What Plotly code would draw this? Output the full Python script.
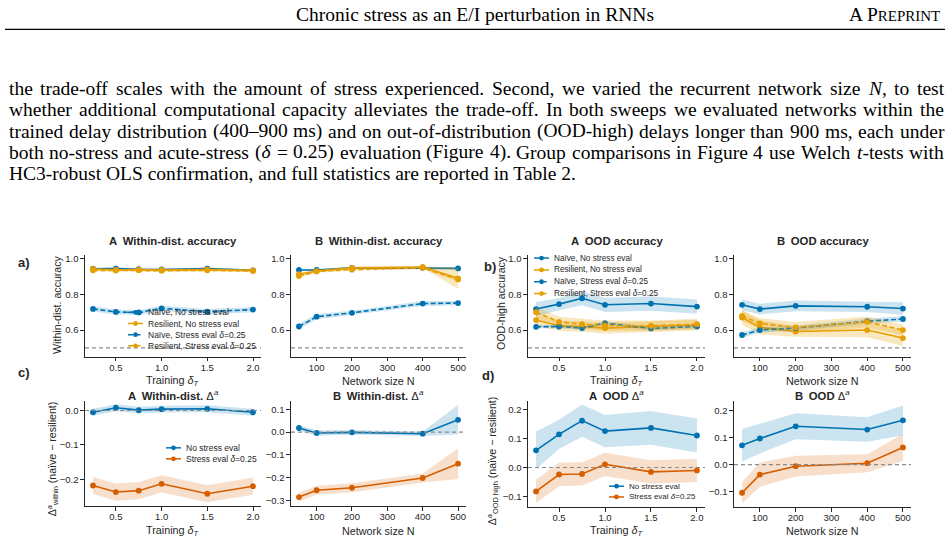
import re
import plotly.graph_objects as go

# ---------------- data ----------------
delta_T = [0.25, 0.5, 0.75, 1.0, 1.5, 2.0]
net_N = [50, 100, 200, 400, 500]

# a) within-distribution accuracy, A: vs training delta_T
accW_dT_naive_ns = [0.945, 0.946, 0.942, 0.941, 0.946, 0.936]
accW_dT_resil_ns = [0.944, 0.938, 0.940, 0.938, 0.940, 0.936]
accW_dT_naive_st = [0.719, 0.702, 0.699, 0.722, 0.703, 0.715]
accW_dT_resil_st = [0.936, 0.935, 0.937, 0.934, 0.936, 0.932]
accW_dT_naive_ns_err = [0.006, 0.006, 0.006, 0.006, 0.006, 0.006]
accW_dT_resil_ns_err = [0.006, 0.006, 0.006, 0.006, 0.006, 0.006]
accW_dT_naive_st_err = [0.015, 0.014, 0.014, 0.015, 0.015, 0.015]
accW_dT_resil_st_err = [0.006, 0.006, 0.006, 0.006, 0.006, 0.006]

# a) B: vs network size N
accW_N_naive_ns = [0.938, 0.938, 0.950, 0.950, 0.947]
accW_N_resil_ns = [0.914, 0.932, 0.950, 0.955, 0.891]
accW_N_naive_st = [0.620, 0.675, 0.697, 0.749, 0.752]
accW_N_resil_st = [0.904, 0.930, 0.940, 0.950, 0.885]
accW_N_naive_ns_err = [0.006, 0.006, 0.006, 0.006, 0.006]
accW_N_resil_ns_err = [0.010, 0.008, 0.006, 0.006, 0.060]
accW_N_naive_st_err = [0.015, 0.015, 0.012, 0.014, 0.012]
accW_N_resil_st_err = [0.010, 0.008, 0.006, 0.006, 0.012]

# b) OOD-high accuracy, A: vs delta_T
accO_dT_naive_ns = [0.718, 0.746, 0.779, 0.742, 0.749, 0.732]
accO_dT_resil_ns = [0.656, 0.624, 0.620, 0.611, 0.620, 0.628]
accO_dT_naive_st = [0.618, 0.620, 0.611, 0.639, 0.609, 0.620]
accO_dT_resil_st = [0.700, 0.646, 0.633, 0.624, 0.624, 0.633]
accO_dT_naive_ns_err = [0.040, 0.035, 0.040, 0.040, 0.040, 0.040]
accO_dT_resil_ns_err = [0.030, 0.030, 0.030, 0.030, 0.030, 0.030]
accO_dT_naive_st_err = [0.010, 0.010, 0.010, 0.010, 0.010, 0.010]
accO_dT_resil_st_err = [0.030, 0.030, 0.030, 0.030, 0.030, 0.030]

# b) B: vs N
accO_N_naive_ns = [0.742, 0.718, 0.736, 0.731, 0.721]
accO_N_resil_ns = [0.671, 0.615, 0.592, 0.600, 0.555]
accO_N_naive_st = [0.572, 0.600, 0.611, 0.650, 0.662]
accO_N_resil_st = [0.680, 0.637, 0.615, 0.646, 0.600]
accO_N_naive_ns_err = [0.030, 0.030, 0.030, 0.030, 0.035]
accO_N_resil_ns_err = [0.040, 0.040, 0.030, 0.040, 0.045]
accO_N_naive_st_err = [0.015, 0.015, 0.015, 0.015, 0.015]
accO_N_resil_st_err = [0.030, 0.030, 0.030, 0.030, 0.030]

# c) within-dist Delta (naive - resilient)
dW_dT_ns = [-0.005, 0.008, 0.001, 0.004, 0.005, -0.005]
dW_dT_st = [-0.218, -0.237, -0.233, -0.213, -0.242, -0.220]
dW_dT_ns_err = [0.010, 0.010, 0.010, 0.010, 0.010, 0.010]
dW_dT_st_err = [0.025, 0.025, 0.025, 0.025, 0.025, 0.025]
dW_N_ns = [0.018, -0.004, -0.001, -0.007, 0.054]
dW_N_st = [-0.286, -0.256, -0.245, -0.202, -0.139]
dW_N_ns_err = [0.012, 0.012, 0.010, 0.010, 0.065]
dW_N_st_err = [0.020, 0.020, 0.020, 0.020, 0.068]

# d) OOD-high Delta (naive - resilient)
dO_dT_ns = [0.059, 0.114, 0.161, 0.125, 0.136, 0.110]
dO_dT_st = [-0.082, -0.024, -0.022, 0.011, -0.015, -0.010]
dO_dT_ns_err = [0.065, 0.050, 0.055, 0.055, 0.058, 0.058]
dO_dT_st_err = [0.040, 0.040, 0.040, 0.040, 0.040, 0.040]
dO_N_ns = [0.071, 0.096, 0.141, 0.129, 0.163]
dO_N_st = [-0.104, -0.037, -0.006, 0.005, 0.063]
dO_N_ns_err = [0.060, 0.055, 0.048, 0.045, 0.055]
dO_N_st_err = [0.040, 0.045, 0.038, 0.033, 0.050]

header_title = "Chronic stress as an E/I perturbation in RNNs"
paragraph_lines = [
    "the trade-off scales with the amount of stress experienced. Second, we varied the recurrent network size <i>N</i>, to test",
    "whether additional computational capacity alleviates the trade-off. In both sweeps we evaluated networks within the",
    "trained delay distribution (400–900 ms) and on out-of-distribution (OOD-high) delays longer than 900 ms, each under",
    "both no-stress and acute-stress (<i>δ</i> = 0.25) evaluation (Figure 4). Group comparisons in Figure 4 use Welch <i>t</i>-tests with",
    "HC3-robust OLS confirmation, and full statistics are reported in Table 2.",
]

# ---------------- style ----------------
W, H = 950, 543
SANS = "Liberation Sans, Arial, sans-serif"
SERIF = "Liberation Serif, Times New Roman, serif"
INK = "#262626"
BLUE, ORANGE, RED = "#0072B2", "#E69F00", "#D55E00"
FILL = {BLUE: "rgba(0,114,178,0.20)", ORANGE: "rgba(230,159,0,0.25)", RED: "rgba(213,94,0,0.20)"}
DASH = "5px,2.5px"


def px(x):
    return x / W


def py(y):
    return 1 - y / H


fig = go.Figure()

# axis boxes in page pixels: (left, right, top, bottom)
panels = [
    dict(box=(85, 261, 254, 356), xr=[0.1625, 2.0875], yr=[0.45, 1.022], xt=[0.5, 1.0, 1.5, 2.0],
         yt=[0.6, 0.8, 1.0], ref=0.5),
    dict(box=(291, 466, 254, 356), xr=[27.5, 522.5], yr=[0.45, 1.022], xt=[100, 200, 300, 400, 500],
         yt=[0.6, 0.8, 1.0], ref=0.5),
    dict(box=(528, 705, 254, 356), xr=[0.1625, 2.0875], yr=[0.45, 1.022], xt=[0.5, 1.0, 1.5, 2.0],
         yt=[0.6, 0.8, 1.0], ref=0.5),
    dict(box=(734, 911, 254, 356), xr=[27.5, 522.5], yr=[0.45, 1.022], xt=[100, 200, 300, 400, 500],
         yt=[0.6, 0.8, 1.0], ref=0.5),
    dict(box=(85, 261, 400, 506), xr=[0.1625, 2.0875], yr=[-0.278, 0.029], xt=[0.5, 1.0, 1.5, 2.0],
         yt=[-0.2, -0.1, 0.0], ref=0.0),
    dict(box=(291, 466, 400, 506), xr=[27.5, 522.5], yr=[-0.326, 0.139], xt=[100, 200, 300, 400, 500],
         yt=[-0.3, -0.2, -0.1, 0.0, 0.1], ref=0.0),
    dict(box=(528, 705, 400, 507), xr=[0.1625, 2.0875], yr=[-0.136, 0.230], xt=[0.5, 1.0, 1.5, 2.0],
         yt=[-0.1, 0.0, 0.1, 0.2], ref=0.0),
    dict(box=(734, 911, 400, 507), xr=[27.5, 522.5], yr=[-0.157, 0.236], xt=[100, 200, 300, 400, 500],
         yt=[-0.1, 0.0, 0.1, 0.2], ref=0.0),
]


def fmt(v, is_int=False):
    if is_int:
        return str(int(v))
    s = f"{abs(v):.1f}"
    return ("−" + s) if v < -1e-9 else s


layout_axes = {}
shapes = []
for i, p in enumerate(panels):
    n = "" if i == 0 else str(i + 1)
    l, r, t, b = p["box"]
    is_int = p["xr"][1] > 10
    layout_axes["xaxis" + n] = dict(
        domain=[px(l), px(r)], range=p["xr"], anchor="y" + n, showgrid=False, zeroline=False,
        showline=True, linecolor=INK, linewidth=1.1, ticks="outside", ticklen=3.5, tickwidth=1,
        tickcolor=INK, tickvals=p["xt"], ticktext=[fmt(v, is_int) for v in p["xt"]],
        ticklabelstandoff=-2,
        tickfont=dict(family=SANS, size=9.5, color=INK), fixedrange=True)
    layout_axes["yaxis" + n] = dict(
        domain=[py(b), py(t)], range=p["yr"], anchor="x" + n, showgrid=False, zeroline=False,
        showline=True, linecolor=INK, linewidth=1.1, ticks="outside", ticklen=3.5, tickwidth=1,
        tickcolor=INK, tickvals=p["yt"], ticktext=[fmt(v) for v in p["yt"]],
        tickfont=dict(family=SANS, size=9.5, color=INK), fixedrange=True)
    shapes.append(dict(type="line", xref=("x" + n + " domain"), yref=("y" + n), x0=0, x1=1,
                       y0=p["ref"], y1=p["ref"], line=dict(color="#8a8a8a", width=1.2, dash="4px,3px"),
                       layer="above"))


def add_series(idx, xs, ys, err, color, dash):
    n = "" if idx == 0 else str(idx + 1)
    up = [y + e for y, e in zip(ys, err)]
    lo = [y - e for y, e in zip(ys, err)]
    fig.add_trace(go.Scatter(x=list(xs) + list(xs)[::-1], y=up + lo[::-1], fill="toself",
                             fillcolor=FILL[color], line=dict(width=0), mode="lines",
                             hoverinfo="skip", showlegend=False, xaxis="x" + n, yaxis="y" + n))
    fig.add_trace(go.Scatter(x=xs, y=ys, mode="lines+markers",
                             line=dict(color=color, width=1.6, dash=dash),
                             marker=dict(size=5.8, color=color), showlegend=False,
                             xaxis="x" + n, yaxis="y" + n))


four = [
    (0, delta_T, accW_dT_naive_ns, accW_dT_naive_ns_err, accW_dT_resil_ns, accW_dT_resil_ns_err,
     accW_dT_naive_st, accW_dT_naive_st_err, accW_dT_resil_st, accW_dT_resil_st_err),
    (1, net_N, accW_N_naive_ns, accW_N_naive_ns_err, accW_N_resil_ns, accW_N_resil_ns_err,
     accW_N_naive_st, accW_N_naive_st_err, accW_N_resil_st, accW_N_resil_st_err),
    (2, delta_T, accO_dT_naive_ns, accO_dT_naive_ns_err, accO_dT_resil_ns, accO_dT_resil_ns_err,
     accO_dT_naive_st, accO_dT_naive_st_err, accO_dT_resil_st, accO_dT_resil_st_err),
    (3, net_N, accO_N_naive_ns, accO_N_naive_ns_err, accO_N_resil_ns, accO_N_resil_ns_err,
     accO_N_naive_st, accO_N_naive_st_err, accO_N_resil_st, accO_N_resil_st_err),
]
for idx, xs, a, ae, b_, be, c, ce, d, de in four:
    add_series(idx, xs, a, ae, BLUE, "solid")
    add_series(idx, xs, b_, be, ORANGE, "solid")
    add_series(idx, xs, c, ce, BLUE, DASH)
    add_series(idx, xs, d, de, ORANGE, DASH)

two = [
    (4, delta_T, dW_dT_ns, dW_dT_ns_err, dW_dT_st, dW_dT_st_err),
    (5, net_N, dW_N_ns, dW_N_ns_err, dW_N_st, dW_N_st_err),
    (6, delta_T, dO_dT_ns, dO_dT_ns_err, dO_dT_st, dO_dT_st_err),
    (7, net_N, dO_N_ns, dO_N_ns_err, dO_N_st, dO_N_st_err),
]
for idx, xs, a, ae, b_, be in two:
    add_series(idx, xs, a, ae, BLUE, "solid")
    add_series(idx, xs, b_, be, RED, "solid")

annotations = []


def text(x, y, s, size, family=SANS, color=INK, xanchor="center", yanchor="middle", angle=0):
    annotations.append(dict(x=px(x), y=py(y), xref="paper", yref="paper", text=s, showarrow=False,
                            xanchor=xanchor, yanchor=yanchor, textangle=angle,
                            font=dict(family=family, size=size, color=color)))


# manual compact legends
def legend(x0, y0, dy, entries, size):
    hw = 15
    for k, (label, color, dash) in enumerate(entries):
        yy = y0 + k * dy
        shapes.append(dict(type="line", xref="paper", yref="paper", x0=px(x0), x1=px(x0 + hw),
                           y0=py(yy), y1=py(yy), line=dict(color=color, width=1.5, dash=dash)))
        cx = x0 + hw / 2
        shapes.append(dict(type="circle", xref="paper", yref="paper", x0=px(cx - 2.4), x1=px(cx + 2.4),
                           y0=py(yy + 2.4), y1=py(yy - 2.4), fillcolor=color, line=dict(width=0)))
        text(x0 + hw + 3, yy, label, size, xanchor="left")


ent4 = [("Naïve, No stress eval", BLUE, "solid"), ("Resilient, No stress eval", ORANGE, "solid"),
        ("Naïve, Stress eval <i>δ</i>=0.25", BLUE, DASH), ("Resilient, Stress eval <i>δ</i>=0.25", ORANGE, DASH)]
ent2 = [("No stress eval", BLUE, "solid"), ("Stress eval <i>δ</i>=0.25", RED, "solid")]
legend(128, 311.5, 11.2, ent4, 8.5)
legend(534, 257, 11.9, ent4, 8.2)
legend(166, 447.5, 11, ent2, 8.5)
legend(609, 486, 10.8, ent2, 8)

# subplot titles
titles_row1 = ["<b>A\u2002Within-dist. accuracy</b>", "<b>B\u2002Within-dist. accuracy</b>",
               "<b>A\u2002OOD accuracy</b>", "<b>B\u2002OOD accuracy</b>"]
titles_row2 = ["<b>A\u2002Within-dist. </b>Δ<sup><i>a</i></sup>", "<b>B\u2002Within-dist. </b>Δ<sup><i>a</i></sup>",
               "<b>A\u2002OOD </b>Δ<sup><i>a</i></sup>", "<b>B\u2002OOD </b>Δ<sup><i>a</i></sup>"]
for k, p in enumerate(panels):
    l, r, t, b = p["box"]
    cx = (l + r) / 2
    if k < 4:
        text(cx, 240, titles_row1[k], 11.3)
    else:
        text(cx, 394, titles_row2[k - 4], 11.3)
    xt = "Training <i>δ</i><sub><i>T</i></sub>" if p["xr"][1] < 10 else "Network size N"
    text(cx, (380 if k < 4 else 531), xt, 10.8)

# y-axis titles
text(57, 304, "Within-dist. accuracy", 10.6, angle=-90)
text(501, 302, "OOD-high accuracy", 10.6, angle=-90)
text(53, 459, "Δ<sup><i>a</i></sup><sub>within</sub> (naïve − resilient)", 10.6, angle=-90)
text(493, 461, "Δ<sup><i>a</i></sup><sub>OOD high</sub> (naïve − resilient)", 10.6, angle=-90)

# panel letters
text(24, 261, "<b>a)</b>", 13)
text(490, 265, "<b>b)</b>", 13)
text(24, 372, "<b>c)</b>", 13)
text(488, 375, "<b>d)</b>", 13)

# page header
text(475, 13, header_title, 19.5, family=SERIF, color="black")
text(942, 13, "A P<span style=\"font-size:15px\">REPRINT</span>", 19.5, family=SERIF, color="black",
     xanchor="right")
shapes.append(dict(type="line", xref="paper", yref="paper", x0=px(5), x1=px(945), y0=py(27.5), y1=py(27.5),
                   line=dict(color="black", width=1.2)))

# paragraph, justified word by word using Times/Liberation Serif advance widths (em units)
TW = {" ": .25, "a": .444, "b": .5, "c": .444, "d": .5, "e": .444, "f": .333, "g": .5, "h": .5, "i": .278,
      "j": .278, "k": .5, "l": .278, "m": .778, "n": .5, "o": .5, "p": .5, "q": .5, "r": .333, "s": .389,
      "t": .278, "u": .5, "v": .5, "w": .722, "x": .5, "y": .5, "z": .444, "A": .722, "B": .667, "C": .667,
      "D": .722, "E": .611, "F": .556, "G": .722, "H": .722, "I": .333, "J": .389, "K": .722, "L": .611,
      "M": .889, "N": .722, "O": .722, "P": .556, "Q": .722, "R": .667, "S": .556, "T": .611, "U": .722,
      "V": .722, "W": .944, "X": .722, "Y": .722, "Z": .611, ".": .25, ",": .25, "-": .333, "(": .333,
      ")": .333, "–": .5, "=": .564, ":": .278, "δ": .5}
PFS = 19.5
LEFT, RIGHT = 7, 942


def wwidth(word):
    plain = re.sub(r"<[^>]+>", "", word)
    return sum(TW.get(ch, 0.5) for ch in plain) * PFS


for k, line in enumerate(paragraph_lines):
    yy = 86.5 + k * 21.5
    if k == len(paragraph_lines) - 1:
        text(LEFT, yy, line, PFS, family=SERIF, color="black", xanchor="left")
        continue
    words = line.split(" ")
    widths = [wwidth(w) for w in words]
    gap = (RIGHT - LEFT - sum(widths)) / (len(words) - 1)
    x = LEFT
    for w, wd in zip(words, widths):
        text(x, yy, w, PFS, family=SERIF, color="black", xanchor="left")
        x += wd + gap

fig.update_layout(width=W, height=H, margin=dict(l=0, r=0, t=0, b=0), paper_bgcolor="white",
                  plot_bgcolor="rgba(0,0,0,0)", showlegend=False, shapes=shapes, annotations=annotations,
                  **layout_axes)

fig.write_html("out.html")
